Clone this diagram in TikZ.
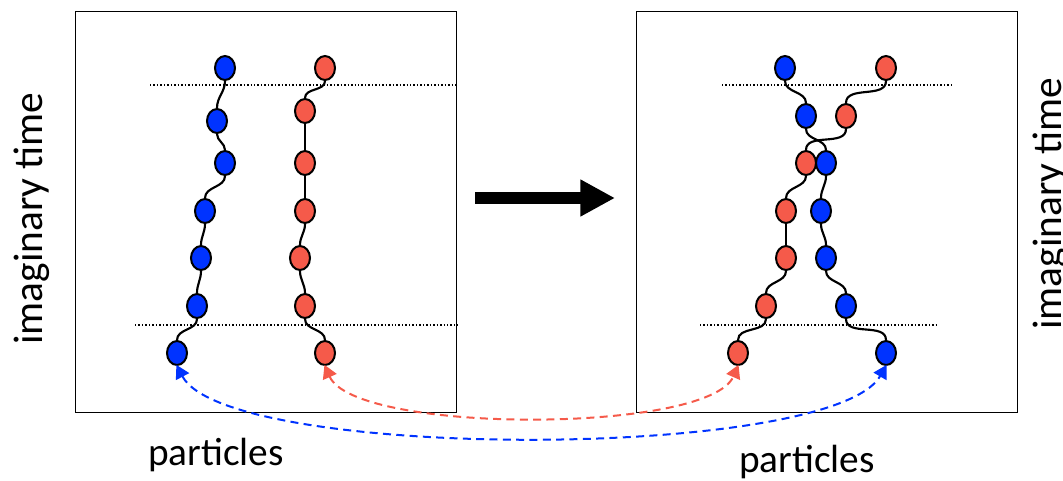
\documentclass[tikz,border=0pt]{standalone}
\usepackage{fontspec}
\setmainfont{Carlito}
\usetikzlibrary{shapes.geometric,arrows.meta}
\definecolor{bblue}{RGB}{0,51,255}
\definecolor{bred}{RGB}{245,90,74}
\tikzset{
  bead/.style={ellipse,draw=black,line width=1.5pt,minimum width=15pt,minimum height=18pt,inner sep=0pt},
  bb/.style={bead,fill=bblue},
  rb/.style={bead,fill=bred},
  link/.style={line width=1.6pt,draw=black},
  wig/.style={out=-90,in=90},
  frame/.style={draw=black,line width=1.1pt},
  dots/.style={line width=1.1pt,dash pattern=on 1.1pt off 1.5pt},
  swap/.style={line width=1.5pt,dash pattern=on 6pt off 4pt,{Triangle[length=10pt,width=11pt]}-{Triangle[length=10pt,width=11pt]},shorten <=-1pt,shorten >=-1pt},
  lbl/.style={font=\fontsize{29.5}{32}\selectfont,inner sep=0pt},
  ylbl/.style={font=\fontsize{31}{34}\selectfont,inner sep=0pt,rotate=90,anchor=base}
}
\begin{document}
\begin{tikzpicture}[x=0.75pt,y=-0.75pt]
\useasboundingbox (0,0) rectangle (1063,480);
% frames
\node[frame,minimum width=285.75pt,minimum height=300.75pt,inner sep=0pt,anchor=north west] (L) at (75,10.5) {};
\node[frame,minimum width=285.75pt,minimum height=300.75pt,inner sep=0pt,anchor=north west] (R) at (636,10.5) {};
% dotted lines
\coordinate (lu1) at (150,85); \coordinate (lu2) at (L.east |- lu1);
\coordinate (ll1) at (135,325); \coordinate (ll2) at (L.east |- ll1);
\coordinate (ru1) at (722,85); \coordinate (ru2) at (952,85);
\coordinate (rl1) at (700,325); \coordinate (rl2) at (937,325);
\draw[dots] (lu1) -- (lu2);
\draw[dots] (ll1) -- (ll2);
\draw[dots] (ru1) -- (ru2);
\draw[dots] (rl1) -- (rl2);
% left blue
\node[bb] (lb1) at (225,68) {};
\node[bb] (lb2) at (217,121) {};
\node[bb] (lb3) at (225,163) {};
\node[bb] (lb4) at (205,211) {};
\node[bb] (lb5) at (201,258) {};
\node[bb] (lb6) at (197,306) {};
\node[bb] (lb7) at (177,353) {};
% left red
\node[rb] (lr1) at (325,68) {};
\node[rb] (lr2) at (305,111) {};
\node[rb] (lr3) at (305,163) {};
\node[rb] (lr4) at (305,211) {};
\node[rb] (lr5) at (300,258) {};
\node[rb] (lr6) at (305,306) {};
\node[rb] (lr7) at (325,353) {};
% right blue
\node[bb] (rb1) at (785,68) {};
\node[bb] (rb2) at (806,116) {};
\node[bb] (rb3) at (826,163) {};
\node[bb] (rb4) at (821,211) {};
\node[bb] (rb5) at (826,258) {};
\node[bb] (rb6) at (846,306) {};
\node[bb] (rb7) at (886,353) {};
% right red
\node[rb] (rr1) at (886,68) {};
\node[rb] (rr2) at (846,116) {};
\node[rb] (rr3) at (806,163) {};
\node[rb] (rr4) at (786,211) {};
\node[rb] (rr5) at (786,258) {};
\node[rb] (rr6) at (766,306) {};
\node[rb] (rr7) at (738,353) {};
% links left blue
\draw[link] (lb1.south) to[wig] (lb2.north);
\draw[link] (lb2.south) to[wig] (lb3.north);
\draw[link] (lb3.south) to[wig] (lb4.north);
\draw[link] (lb4.south) to[wig] (lb5.north);
\draw[link] (lb5.south) to[wig] (lb6.north);
\draw[link] (lb6.south) to[wig] (lb7.north);
% links left red
\draw[link] (lr1.south) to[wig] (lr2.north);
\draw[link] (lr2.south) -- (lr3.north);
\draw[link] (lr3.south) -- (lr4.north);
\draw[link] (lr4.south) to[wig] (lr5.north);
\draw[link] (lr5.south) to[wig] (lr6.north);
\draw[link] (lr6.south) to[wig] (lr7.north);
% links right blue
\draw[link] (rb1.south) to[wig] (rb2.north);
\draw[link] (rb2.south) to[wig] (rb3.north);
\draw[link] (rb3.south) to[wig] (rb4.north);
\draw[link] (rb4.south) to[wig] (rb5.north);
\draw[link] (rb5.south) to[wig] (rb6.north);
\draw[link] (rb6.south) to[wig] (rb7.north);
% links right red
\draw[link] (rr1.south) to[wig] (rr2.north);
\draw[link] (rr2.south) to[wig] (rr3.north);
\draw[link] (rr3.south) to[wig] (rr4.north);
\draw[link] (rr4.south) -- (rr5.north);
\draw[link] (rr5.south) to[wig] (rr6.north);
\draw[link] (rr6.south) to[wig] (rr7.north);
% big arrow
\coordinate (a1) at (475,198);
\coordinate (a2) at (615,198);
\draw[line width=9pt,-{Triangle[length=26pt,width=26pt]}] (a1) -- (a2);
% exchange arrows
\draw[swap,bred] (lr7.south) .. controls +(30,68) and +(-30,68) .. (rr7.south);
\draw[swap,bblue] (lb7.south) .. controls +(50,95) and +(-55,95) .. (rb7.south);
% labels
\node[lbl,anchor=base] (pl) at (216,465) {particles};
\node[lbl,anchor=base] (pr) at (807,472) {particles};
\node[ylbl] (tl) at (42,218.5) {imaginary time};
\node[ylbl] (tr) at (1061,203.5) {imaginary time};
\end{tikzpicture}
\end{document}
